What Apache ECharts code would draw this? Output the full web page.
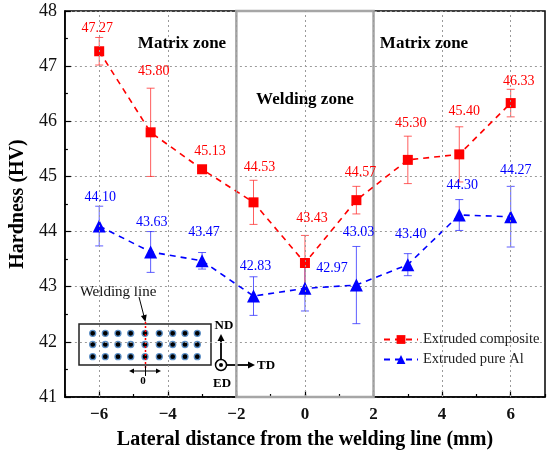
<!DOCTYPE html>
<html>
<head>
<meta charset="utf-8">
<script src="https://cdn.jsdelivr.net/npm/echarts@6/dist/echarts.min.js"></script>
<style>html,body{margin:0;padding:0;background:#fff;}#c{width:550px;height:455px;}</style>
</head>
<body>
<div id="c"></div>
<script>
// ---- data ----
const distances = [-6, -4.5, -3, -1.5, 0, 1.5, 3, 4.5, 6];
const composite = [47.27, 45.80, 45.13, 44.53, 43.43, 44.57, 45.30, 45.40, 46.33];
const compositeErr = [0.25, 0.80, 0.03, 0.40, 0.50, 0.25, 0.43, 0.50, 0.25];
const pureAl = [44.10, 43.63, 43.47, 42.83, 42.97, 43.03, 43.40, 44.30, 44.27];
const pureAlErr = [0.36, 0.37, 0.15, 0.35, 0.41, 0.70, 0.20, 0.28, 0.55];
const xMajorTicks = [-6, -4, -2, 0, 2, 4, 6];
const weldingZone = [-2, 2];
const seriesNames = ['Extruded composite', 'Extruded pure Al'];

// ---- label offsets (pixels, style only) ----
const compLabelDx = [-2, 3, 8, 6, 7, 4, 3, 5, 8];
const compLabelDy = [-23, -61, -18, -35, -45, -28, -37, -43, -22];
const alLabelDx = [1, 1, 2, 2, 27, 2, 3, 3, 5];
const alLabelDy = [-29, -30, -28, -30, -20, -53, -30, -30, -46];

const FONT = 'Liberation Serif';
const RED = '#ff0000', BLUE = '#0000ff';

const chart = echarts.init(document.getElementById('c'));

function errSeries(vals, errs, color) {
  return {
    type: 'custom',
    silent: true,
    data: distances.map((x, i) => [x, vals[i] - errs[i], vals[i] + errs[i]]),
    encode: { x: 0, y: [1, 2] },
    renderItem: function (params, api) {
      const x = api.value(0), lo = api.value(1), hi = api.value(2);
      const a = api.coord([x, hi]), b = api.coord([x, lo]);
      const c = 4;
      const st = { stroke: color, lineWidth: 1 };
      return {
        type: 'group',
        children: [
          { type: 'line', shape: { x1: a[0], y1: a[1], x2: b[0], y2: b[1] }, style: st },
          { type: 'line', shape: { x1: a[0] - c, y1: a[1], x2: a[0] + c, y2: a[1] }, style: st },
          { type: 'line', shape: { x1: b[0] - c, y1: b[1], x2: b[0] + c, y2: b[1] }, style: st }
        ]
      };
    },
    z: 2
  };
}

function labelSeries(vals, dx, dy, color) {
  return {
    type: 'custom',
    silent: true,
    data: distances.map((x, i) => [x, vals[i]]),
    encode: { x: 0, y: 1 },
    renderItem: function (params, api) {
      const i = params.dataIndex;
      const p = api.coord([api.value(0), api.value(1)]);
      return {
        type: 'text',
        x: p[0] + dx[i],
        y: p[1] + dy[i],
        style: {
          text: vals[i].toFixed(2),
          fill: color,
          font: '14px "' + FONT + '"',
          align: 'center',
          verticalAlign: 'middle'
        }
      };
    },
    z: 5
  };
}

function arrowHead(tip, dir, len, half) {
  const n = Math.hypot(dir[0], dir[1]);
  const d = [dir[0] / n, dir[1] / n];
  const p = [-d[1], d[0]];
  const bx = tip[0] - d[0] * len, by = tip[1] - d[1] * len;
  return { type: 'polygon', shape: { points: [tip, [bx + p[0] * half, by + p[1] * half], [bx - p[0] * half, by - p[1] * half]] }, style: { fill: '#000' } };
}

// inset schematic
const dotCols = [92.7, 105.3, 118, 130.7, 145, 159.3, 172.7, 185, 197.3];
const dotRows = [333.3, 344.5, 356.7];
const insetEls = [];
insetEls.push({ type: 'rect', shape: { x: 79, y: 324, width: 132, height: 41 }, style: { fill: 'rgba(0,0,0,0)', stroke: '#222', lineWidth: 1.5 } });
dotRows.forEach(r => dotCols.forEach(cx => {
  insetEls.push({ type: 'circle', shape: { cx: cx, cy: r, r: 3 }, style: { fill: '#000', stroke: '#5b8fc7', lineWidth: 1.3 } });
}));
insetEls.push({ type: 'line', shape: { x1: 145.5, y1: 322, x2: 145.5, y2: 368 }, style: { stroke: RED, lineWidth: 1.5, lineDash: [2, 2] } });
insetEls.push({ type: 'text', x: 118, y: 292, style: { text: 'Welding line', font: '15px "' + FONT + '"', fill: '#111', align: 'center', verticalAlign: 'middle' } });
insetEls.push({ type: 'line', shape: { x1: 139, y1: 297, x2: 144.2, y2: 317 }, style: { stroke: '#000', lineWidth: 1 } });
insetEls.push(arrowHead([145.5, 322], [6, 24], 7, 3));
// double arrow under inset
insetEls.push({ type: 'line', shape: { x1: 133, y1: 371, x2: 157, y2: 371 }, style: { stroke: '#000', lineWidth: 1 } });
insetEls.push(arrowHead([129, 371], [-1, 0], 5, 2.5));
insetEls.push(arrowHead([161, 371], [1, 0], 5, 2.5));
insetEls.push({ type: 'line', shape: { x1: 145.5, y1: 366, x2: 145.5, y2: 376 }, style: { stroke: '#000', lineWidth: 1 } });
insetEls.push({ type: 'text', x: 143, y: 381, style: { text: '0', font: 'bold 11px "' + FONT + '"', fill: '#000', align: 'center', verticalAlign: 'middle' } });
// ND / TD / ED axes
insetEls.push({ type: 'line', shape: { x1: 221, y1: 359, x2: 221, y2: 340 }, style: { stroke: '#000', lineWidth: 1.8 } });
insetEls.push(arrowHead([221, 334], [0, -1], 7, 3.5));
insetEls.push({ type: 'circle', shape: { cx: 221, cy: 365, r: 5.5 }, style: { fill: '#fff', stroke: '#000', lineWidth: 1.5 } });
insetEls.push({ type: 'circle', shape: { cx: 221, cy: 365, r: 2 }, style: { fill: '#000' } });
insetEls.push({ type: 'line', shape: { x1: 227, y1: 365, x2: 249, y2: 365 }, style: { stroke: '#000', lineWidth: 1.8 } });
insetEls.push(arrowHead([255, 365], [1, 0], 7, 3.5));
insetEls.push({ type: 'text', x: 224, y: 326, style: { text: 'ND', font: 'bold 13px "' + FONT + '"', fill: '#000', align: 'center', verticalAlign: 'middle' } });
insetEls.push({ type: 'text', x: 257, y: 366, style: { text: 'TD', font: 'bold 13px "' + FONT + '"', fill: '#000', align: 'left', verticalAlign: 'middle' } });
insetEls.push({ type: 'text', x: 222, y: 384, style: { text: 'ED', font: 'bold 13px "' + FONT + '"', fill: '#000', align: 'center', verticalAlign: 'middle' } });
// zone labels
insetEls.push({ type: 'text', x: 182, y: 44, style: { text: 'Matrix zone', font: 'bold 17px "' + FONT + '"', fill: '#000', align: 'center', verticalAlign: 'middle' } });
insetEls.push({ type: 'text', x: 424, y: 44, style: { text: 'Matrix zone', font: 'bold 17px "' + FONT + '"', fill: '#000', align: 'center', verticalAlign: 'middle' } });
insetEls.push({ type: 'text', x: 305, y: 100, style: { text: 'Welding zone', font: 'bold 17px "' + FONT + '"', fill: '#000', align: 'center', verticalAlign: 'middle' } });

const option = {
  animation: false,
  backgroundColor: '#fff',
  textStyle: { fontFamily: FONT },
  grid: { left: 60, right: 5, top: 11, bottom: 54, show: true, borderColor: '#000', borderWidth: 1.5, backgroundColor: 'rgba(0,0,0,0)' },
  legend: {
    data: seriesNames,
    orient: 'vertical',
    left: 378,
    top: 327,
    itemWidth: 34,
    itemHeight: 11,
    itemGap: 5,
    textStyle: { fontFamily: FONT, fontSize: 14.5, color: '#222' }
  },
  xAxis: [{
    type: 'value', min: -7, max: 7, interval: 1,
    name: 'Lateral distance from the welding line (mm)',
    nameLocation: 'middle', nameGap: 33,
    nameTextStyle: { fontFamily: FONT, fontSize: 20, fontWeight: 'bold', color: '#000' },
    axisLine: { show: true, onZero: false, lineStyle: { color: '#000', width: 1.5 } },
    axisTick: { show: true, inside: true, length: 3, lineStyle: { color: '#000', width: 1.2 } },
    axisLabel: {
      margin: 9, fontFamily: FONT, fontSize: 17, fontWeight: 'bold', color: '#111',
      formatter: v => (xMajorTicks.indexOf(v) >= 0 ? String(v).replace('-', '\u2212') : '')
    },
    splitLine: { show: false }
  }, {
    type: 'value', min: -7, max: 7, interval: 1, position: 'bottom',
    axisLine: { show: false, onZero: false },
    axisTick: { show: true, inside: true, length: 6, customValues: xMajorTicks, lineStyle: { color: '#000', width: 1.2 } },
    axisLabel: { show: false },
    splitLine: { show: false }
  }],
  yAxis: {
    type: 'value', min: 41, max: 48, interval: 1,
    name: 'Hardness (HV)',
    nameLocation: 'middle', nameGap: 36,
    nameTextStyle: { fontFamily: FONT, fontSize: 20, fontWeight: 'bold', color: '#000' },
    axisLine: { show: true, onZero: false, lineStyle: { color: '#000', width: 1.5 } },
    axisTick: { show: true, inside: true, length: 6, lineStyle: { color: '#000', width: 1.2 } },
    minorTick: { show: true, splitNumber: 2, length: 3, lineStyle: { color: '#000', width: 1.2 } },
    axisLabel: { margin: 8, fontFamily: FONT, fontSize: 18, color: '#111' },
    splitLine: { show: true, lineStyle: { color: '#9a9a9a', type: [2, 3], width: 1 } }
  },
  graphic: { elements: insetEls },
  series: [
    {
      type: 'line', name: 'grid', data: [], silent: true,
      markLine: {
        silent: true, symbol: 'none', label: { show: false },
        lineStyle: { color: '#9a9a9a', type: [2, 3], width: 1 },
        data: xMajorTicks.map(x => ({ xAxis: x }))
      },
      markArea: {
        silent: true,
        itemStyle: { color: 'rgba(0,0,0,0)', borderColor: '#a6a6a6', borderWidth: 2.5 },
        data: [[{ xAxis: weldingZone[0], yAxis: 41 }, { xAxis: weldingZone[1], yAxis: 48 }]]
      },
      z: 1
    },
    errSeries(pureAl, pureAlErr, 'rgba(40,40,255,0.75)'),
    {
      type: 'line', name: seriesNames[1],
      data: distances.map((x, i) => [x, pureAl[i]]),
      symbol: 'triangle', symbolSize: 13,
      itemStyle: { color: BLUE },
      lineStyle: { color: BLUE, width: 1.6, type: [6, 5] },
      z: 3
    },
    errSeries(composite, compositeErr, 'rgba(255,40,40,0.75)'),
    {
      type: 'line', name: seriesNames[0],
      data: distances.map((x, i) => [x, composite[i]]),
      symbol: 'rect', symbolSize: 10,
      itemStyle: { color: RED },
      lineStyle: { color: RED, width: 1.6, type: [6, 5] },
      z: 4
    },
    labelSeries(composite, compLabelDx, compLabelDy, RED),
    labelSeries(pureAl, alLabelDx, alLabelDy, BLUE)
  ]
};
chart.setOption(option);
</script>
</body>
</html>
